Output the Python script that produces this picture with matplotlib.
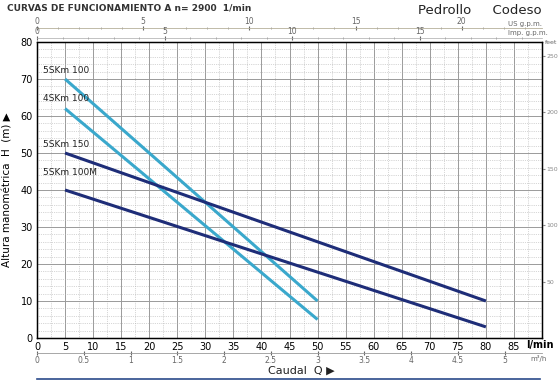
import matplotlib.pyplot as plt
import numpy as np

# caudal (l/min) y altura (m) de cada curva
modelos = ['5SKm 100', '4SKm 100', '5SKm 150', '5SKm 100M']
caudal = [[5, 50], [5, 50], [5, 80], [5, 80]]
altura = [[70, 10], [62, 5], [50, 10], [40, 3]]
colores = ['#3aa8cc', '#3aa8cc', '#1e2d78', '#1e2d78']
pos_label = [72.3, 64.6, 52.4, 44.6]

l_min_ticks = list(range(0, 90, 5))
m_ticks = list(range(0, 90, 10))
ft_ticks = [50, 100, 150, 200, 250]
m3h_ticks = [0, 0.5, 1, 1.5, 2, 2.5, 3, 3.5, 4, 4.5, 5]
m3h_labels = ['0', '0.5', '1', '1.5', '2', '2.5', '3', '3.5', '4', '4.5', '5']
usgpm_ticks = [0, 5, 10, 15, 20]
impgpm_ticks = [0, 5, 10, 15]

W, H = 558, 384
fig = plt.figure(figsize=(W / 100, H / 100), dpi=100)
fig.patch.set_facecolor('white')

def fx(px):
    return px / W

def fy(py):
    return 1 - py / H

x0, x1 = 37, 542
y0, y1 = 42, 338
ax = fig.add_axes([fx(x0), fy(y1), fx(x1) - fx(x0), fy(y0) - fy(y1)])
ax.set_xlim(0, 90)
ax.set_ylim(0, 80)

# rejilla
ax.set_xticks(l_min_ticks)
ax.set_xticks(np.arange(0, 90, 2.5), minor=True)
ax.set_yticks(m_ticks)
ax.set_yticks(np.arange(0, 81, 2), minor=True)
ax.grid(which='major', color='#9a9a9a', lw=0.7)
ax.grid(which='minor', color='#b0b0b0', lw=0.5, ls=':')
ax.tick_params(which='minor', length=0)
ax.tick_params(which='major', length=0, labelsize=7, pad=3)
ax.set_xticklabels([str(v) for v in l_min_ticks])
for s in ax.spines.values():
    s.set_linewidth(1.0)

for i, m in enumerate(modelos):
    ax.plot(caudal[i], altura[i], color=colores[i], lw=2.2, solid_capstyle='butt')
    ax.text(1.0, pos_label[i], m, fontsize=6.5, color='#222222', ha='left', va='center')

fig.text(fx(526), fy(345), 'l/min', fontsize=7, ha='left', va='center', fontweight='bold')
ax.set_ylabel('Altura manométrica  H  (m) ▶', fontsize=7.5, labelpad=6)

# eje derecho en pies
ax2 = ax.twinx()
ax2.set_ylim(0, 80 * 3.2808)
ax2.set_yticks(ft_ticks)
ax2.tick_params(length=2, labelsize=4.5, colors='#888888', pad=1)
fig.text(fx(545), fy(42), 'feet', fontsize=4.5, color='#666666', ha='left', va='center')

# escala m3/h
axm = fig.add_axes([fx(x0), fy(353), fx(x1) - fx(x0), 0.0001])
axm.set_xlim(0, 90 / 16.667)
axm.set_ylim(0, 1)
for k in ['left', 'right', 'top']:
    axm.spines[k].set_visible(False)
axm.spines['bottom'].set_color('#999999')
axm.spines['bottom'].set_linewidth(0.6)
axm.set_yticks([])
axm.set_xticks(m3h_ticks)
axm.set_xticklabels(m3h_labels)
axm.tick_params(axis='x', length=3, direction='inout', labelsize=5.5, colors='#666666', pad=1)
fig.text(fx(530), fy(359), 'm³/h', fontsize=5, color='#666666', va='center')

# escalas superiores g.p.m.
axu = fig.add_axes([fx(x0), fy(28), fx(x1) - fx(x0), 0.0001])
axu.set_xlim(0, 90 / 3.785)
for k in ['left', 'right', 'bottom']:
    axu.spines[k].set_visible(False)
axu.spines['top'].set_color('#b5b09a')
axu.spines['top'].set_linewidth(0.6)
axu.set_yticks([])
axu.xaxis.tick_top()
axu.set_xticks(usgpm_ticks)
axu.set_xticks(np.arange(0, 24, 1), minor=True)
axu.tick_params(axis='x', which='major', length=3, direction='inout', labelsize=5.5,
                colors='#666666', pad=0)
axu.tick_params(axis='x', which='minor', length=2, direction='inout', colors='#999999')
fig.text(fx(508), fy(24), 'US g.p.m.', fontsize=5, color='#666666', va='center')

axi = fig.add_axes([fx(x0), fy(38), fx(x1) - fx(x0), 0.0001])
axi.set_xlim(0, 90 / 4.546)
for k in ['left', 'right', 'bottom']:
    axi.spines[k].set_visible(False)
axi.spines['top'].set_color('#aaaaaa')
axi.spines['top'].set_linewidth(0.5)
axi.set_yticks([])
axi.xaxis.tick_top()
axi.set_xticks(impgpm_ticks)
axi.set_xticks(np.arange(0, 20, 1), minor=True)
axi.tick_params(axis='x', which='major', length=3, direction='inout', labelsize=5.5,
                colors='#666666', pad=0)
axi.tick_params(axis='x', which='minor', length=2, direction='inout', colors='#999999')
fig.text(fx(508), fy(33), 'Imp. g.p.m.', fontsize=5, color='#666666', va='center')

# titulos
fig.text(fx(7), fy(8), 'CURVAS DE FUNCIONAMIENTO A n= 2900  1/min', fontsize=6.5,
         fontweight='bold', color='#333333', va='center')
fig.text(fx(418), fy(10), 'Pedrollo     Codeso', fontsize=9.5, color='#222222', va='center')
fig.text(fx(268), fy(371), 'Caudal  Q ▶', fontsize=8, color='#222222', va='center')

# linea inferior
fig.add_artist(plt.Line2D([fx(37), fx(540)], [fy(379), fy(379)], color='#2a4a8a', lw=1.2))

fig.savefig('out.png', dpi=100)
